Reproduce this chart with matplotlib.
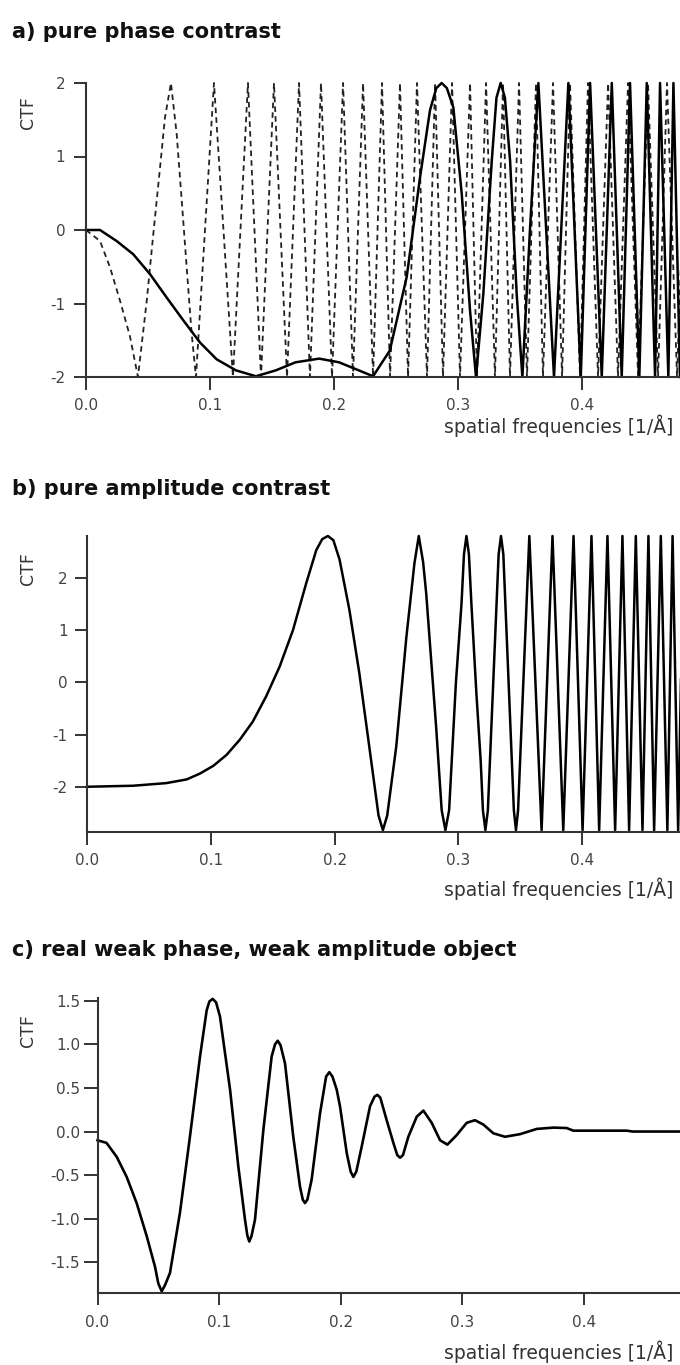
import matplotlib
matplotlib.use('Agg')
import matplotlib.pyplot as plt

# Valores (frecuencia espacial en 1/Å, CTF)
x_ticks = [0.0, 0.1, 0.2, 0.3, 0.4]
x_tick_labels = ['0.0', '0.1', '0.2', '0.3', '0.4']
x_max = 0.479

titles = ['a) pure phase contrast',
          'b) pure amplitude contrast',
          'c) real weak phase, weak amplitude object']
x_label = 'spatial frequencies [1/Å]'
y_label = 'CTF'

# a) contraste de fase pura: curva continua
a_solid_x = [0.0, 0.0113, 0.0247, 0.0381, 0.0516, 0.0651, 0.0785, 0.0919, 0.1054, 0.121,
             0.137, 0.153, 0.169, 0.188, 0.204, 0.220, 0.2315, 0.245, 0.2586, 0.2694,
             0.2774, 0.2825, 0.2868, 0.291, 0.2962, 0.303, 0.3097, 0.3145, 0.3204, 0.3272,
             0.331, 0.3344, 0.3378, 0.342, 0.3473, 0.3519, 0.358, 0.3648, 0.3774, 0.389,
             0.399, 0.4065, 0.4159, 0.424, 0.432, 0.4387, 0.4462, 0.4522, 0.4589, 0.4629,
             0.4696, 0.4737, 0.479]
a_solid_y = [0.0, 0.0, -0.15, -0.33, -0.60, -0.92, -1.23, -1.53, -1.76, -1.91,
             -1.99, -1.91, -1.80, -1.75, -1.80, -1.91, -1.99, -1.64, -0.64, 0.72,
             1.63, 1.93, 2.0, 1.93, 1.67, 0.49, -1.10, -2.0, -0.87, 0.94,
             1.8, 2.0, 1.8, 0.94, -0.87, -2.0, 0.0, 2.0, -2.0, 2.0,
             -2.0, 2.0, -2.0, 2.0, -2.0, 2.0, -2.0, 2.0, -2.0, 2.0,
             -2.0, 2.0, -2.0]

# a) curva discontinua (desenfoque grande)
a_dashed_x = [0.0, 0.0113, 0.0194, 0.0274, 0.0355, 0.0419, 0.0490, 0.0543, 0.0597, 0.0637,
              0.0685, 0.0731, 0.0772, 0.0812, 0.0852, 0.0887, 0.1032, 0.1185, 0.1306, 0.1411,
              0.1516, 0.1621, 0.1718, 0.1806, 0.1895, 0.1984, 0.2073, 0.2153, 0.2234, 0.2315,
              0.2387, 0.2452, 0.2532, 0.2597, 0.2669, 0.2750, 0.2815, 0.2879, 0.2952, 0.3016,
              0.3097, 0.3153, 0.3226, 0.3298, 0.3363, 0.3419, 0.3492, 0.3556, 0.3629, 0.3685,
              0.3766, 0.3839, 0.3903, 0.3984, 0.4048, 0.4129, 0.4210, 0.4290, 0.4371, 0.4452,
              0.4532, 0.4613, 0.4685, 0.4766, 0.4847]
a_dashed_y = [0.0, -0.15, -0.51, -0.96, -1.45, -2.0, -0.96, -0.05, 0.85, 1.53,
              2.0, 1.31, 0.40, -0.51, -1.41, -2.0, 2.0, -2.0, 2.0, -2.0,
              2.0, -2.0, 2.0, -2.0, 2.0, -2.0, 2.0, -2.0, 2.0, -2.0,
              2.0, -2.0, 2.0, -2.0, 2.0, -2.0, 2.0, -2.0, 2.0, -2.0,
              2.0, -2.0, 2.0, -2.0, 2.0, -2.0, 2.0, -2.0, 2.0, -2.0,
              2.0, -2.0, 2.0, -2.0, 2.0, -2.0, 2.0, -2.0, 2.0, -2.0,
              2.0, -2.0, 2.0, -2.0, 2.0]
a_yticks = [-2, -1, 0, 1, 2]
a_ylim = (-2.0, 2.0)

# b) contraste de amplitud pura
b_x = [0.0, 0.0373, 0.064, 0.0804, 0.091, 0.102, 0.1127, 0.1234, 0.134, 0.1447,
       0.1556, 0.1664, 0.177, 0.1852, 0.190, 0.1946, 0.199, 0.204, 0.212, 0.220,
       0.228, 0.2355, 0.239, 0.2425, 0.2498, 0.258, 0.2645, 0.268, 0.2715, 0.274,
       0.282, 0.2865, 0.2895, 0.2925, 0.298, 0.3025, 0.3045, 0.3065, 0.3085,
       0.3105, 0.3145, 0.318, 0.3198, 0.3218, 0.3238, 0.3325, 0.3344, 0.3363, 0.3448,
       0.3465, 0.3482, 0.3573, 0.3672, 0.376, 0.3847, 0.393, 0.4003, 0.4075, 0.4137,
       0.4204, 0.4266, 0.4325, 0.4379, 0.4433, 0.4487, 0.4535, 0.4581, 0.4635, 0.4688,
       0.473, 0.4775, 0.482]
b_y = [-2.0, -1.98, -1.93, -1.86, -1.75, -1.60, -1.39, -1.10, -0.75, -0.27,
       0.30, 1.0, 1.89, 2.53, 2.74, 2.8, 2.72, 2.35, 1.38, 0.17,
       -1.23, -2.55, -2.83, -2.55, -1.23, 0.87, 2.28, 2.8, 2.3, 1.7,
       -0.85, -2.45, -2.83, -2.45, 0.0, 1.5, 2.45, 2.8, 2.45,
       1.5, -0.2, -1.5, -2.45, -2.83, -2.45, 2.45, 2.8, 2.45, -2.45,
       -2.83, -2.45, 2.8, -2.83, 2.8, -2.83, 2.8, -2.83, 2.8, -2.83,
       2.8, -2.83, 2.8, -2.83, 2.8, -2.83, 2.8, -2.83, 2.8, -2.83,
       2.8, -2.83, 2.8]
b_yticks = [-2, -1, 0, 1, 2]
b_ylim = (-2.86, 2.80)

# c) objeto real de fase débil y amplitud débil
c_x = [0.0, 0.0074, 0.0158, 0.024, 0.0322, 0.0405, 0.0473, 0.050, 0.0528, 0.0555,
       0.0596, 0.0678, 0.076, 0.0843, 0.0898, 0.092, 0.0947, 0.0975, 0.1007, 0.109,
       0.1158, 0.1213, 0.1232, 0.1248, 0.1266, 0.1295, 0.1364, 0.1432, 0.146, 0.1482,
       0.1505, 0.1542, 0.161, 0.1665, 0.1688, 0.1706, 0.1726, 0.1761, 0.183, 0.188,
       0.1906, 0.1932, 0.1967, 0.1994, 0.205, 0.2082, 0.2104, 0.2128, 0.2173, 0.2241,
       0.2278, 0.2301, 0.2325, 0.2378, 0.2433, 0.2465, 0.2488, 0.2512, 0.2556, 0.2625,
       0.268, 0.2748, 0.2817, 0.2877, 0.2954, 0.3036, 0.3104, 0.3173, 0.3255, 0.3351,
       0.3475, 0.3612, 0.375, 0.3858, 0.3913, 0.4352, 0.44, 0.479]
c_y = [-0.10, -0.13, -0.29, -0.52, -0.82, -1.20, -1.55, -1.74, -1.83, -1.76,
       -1.62, -0.93, -0.06, 0.86, 1.39, 1.49, 1.52, 1.48, 1.32, 0.48,
       -0.40, -1.01, -1.19, -1.26, -1.2, -1.01, 0.02, 0.86, 1.0, 1.04,
       0.99, 0.78, -0.06, -0.63, -0.78, -0.82, -0.78, -0.55, 0.21, 0.63,
       0.68, 0.63, 0.48, 0.29, -0.25, -0.46, -0.52, -0.46, -0.17, 0.29,
       0.40, 0.42, 0.39, 0.13, -0.13, -0.27, -0.30, -0.27, -0.06, 0.17,
       0.24, 0.10, -0.10, -0.15, -0.04, 0.10, 0.13, 0.08, -0.02, -0.06,
       -0.03, 0.03, 0.045, 0.04, 0.01, 0.01, 0.0, 0.0]
c_yticks = [-1.5, -1.0, -0.5, 0.0, 0.5, 1.0, 1.5]
c_ylim = (-1.85, 1.53)

plt.rcParams['axes.unicode_minus'] = False
plt.rcParams['lines.scale_dashes'] = False
plt.rcParams['font.family'] = ['DejaVu Sans']

W, H = 680, 1365
fig = plt.figure(figsize=(W / 100, H / 100), dpi=100)
fig.patch.set_facecolor('white')

spine_color = '#333333'
tick_color = '#444444'


def make_axes(left_px, top_px, bottom_px):
    # rectángulo en píxeles -> fracción de la figura
    ax = fig.add_axes([left_px / W, 1 - bottom_px / H,
                       (W - left_px) / W, (bottom_px - top_px) / H])
    for side in ['top', 'right']:
        ax.spines[side].set_visible(False)
    for side in ['left', 'bottom']:
        ax.spines[side].set_linewidth(1.5)
        ax.spines[side].set_color(spine_color)
    ax.set_xlim(0, x_max)
    ax.set_xticks(x_ticks)
    ax.set_xticklabels(x_tick_labels)
    ax.set_facecolor('none')
    return ax


# Panel a
ax_a = make_axes(86, 83, 377)
ax_a.plot(a_dashed_x, a_dashed_y, color='#222222', lw=1.3, linestyle=(0, (4, 3)), clip_on=False)
ax_a.plot(a_solid_x, a_solid_y, color='black', lw=1.8, clip_on=False, solid_joinstyle='round')
ax_a.set_ylim(*a_ylim)
ax_a.set_yticks(a_yticks)
ax_a.set_yticklabels([str(v) for v in a_yticks])
ax_a.tick_params(axis='y', length=8.5, width=1.4, pad=6.5, labelsize=11, color=spine_color, labelcolor=tick_color)
ax_a.tick_params(axis='x', length=9, width=1.4, pad=6, labelsize=11, color=spine_color, labelcolor=tick_color)

# Panel b
ax_b = make_axes(87, 536, 831.7)
ax_b.plot(b_x, b_y, color='black', lw=1.8, clip_on=False, solid_joinstyle='round')
ax_b.set_ylim(*b_ylim)
ax_b.set_yticks(b_yticks)
ax_b.set_yticklabels([str(v) for v in b_yticks])
ax_b.tick_params(axis='y', length=9, width=1.4, pad=5, labelsize=11, color=spine_color, labelcolor=tick_color)
ax_b.tick_params(axis='x', length=9, width=1.4, pad=6, labelsize=11, color=spine_color, labelcolor=tick_color)

# Panel c
ax_c = make_axes(97.5, 998, 1293)
ax_c.plot(c_x, c_y, color='black', lw=1.9, clip_on=False, solid_joinstyle='round')
ax_c.set_ylim(*c_ylim)
ax_c.set_yticks(c_yticks)
ax_c.set_yticklabels([f'{v:.1f}' for v in c_yticks])
ax_c.tick_params(axis='y', length=10, width=1.4, pad=2.5, labelsize=11, color=spine_color, labelcolor=tick_color)
ax_c.tick_params(axis='x', length=8.5, width=1.4, pad=7, labelsize=11, color=spine_color, labelcolor=tick_color)

# Títulos, etiquetas de ejes
title_y = [32, 489, 950]
xlabel_y = [426, 889, 1352]
ylabel_y = [113, 569, 1031]
for t, ty, xy, yy in zip(titles, title_y, xlabel_y, ylabel_y):
    fig.text(12 / W, 1 - ty / H, t, fontsize=15, fontweight='bold', ha='left', va='center', color='#111111')
    fig.text(673 / W, 1 - xy / H, x_label, fontsize=13.5, ha='right', va='center', color='#333333')
    fig.text(27.5 / W, 1 - yy / H, y_label, fontsize=12.5, rotation=90, ha='center', va='center', color='#333333')

fig.savefig('out.png', dpi=100, facecolor='white')
